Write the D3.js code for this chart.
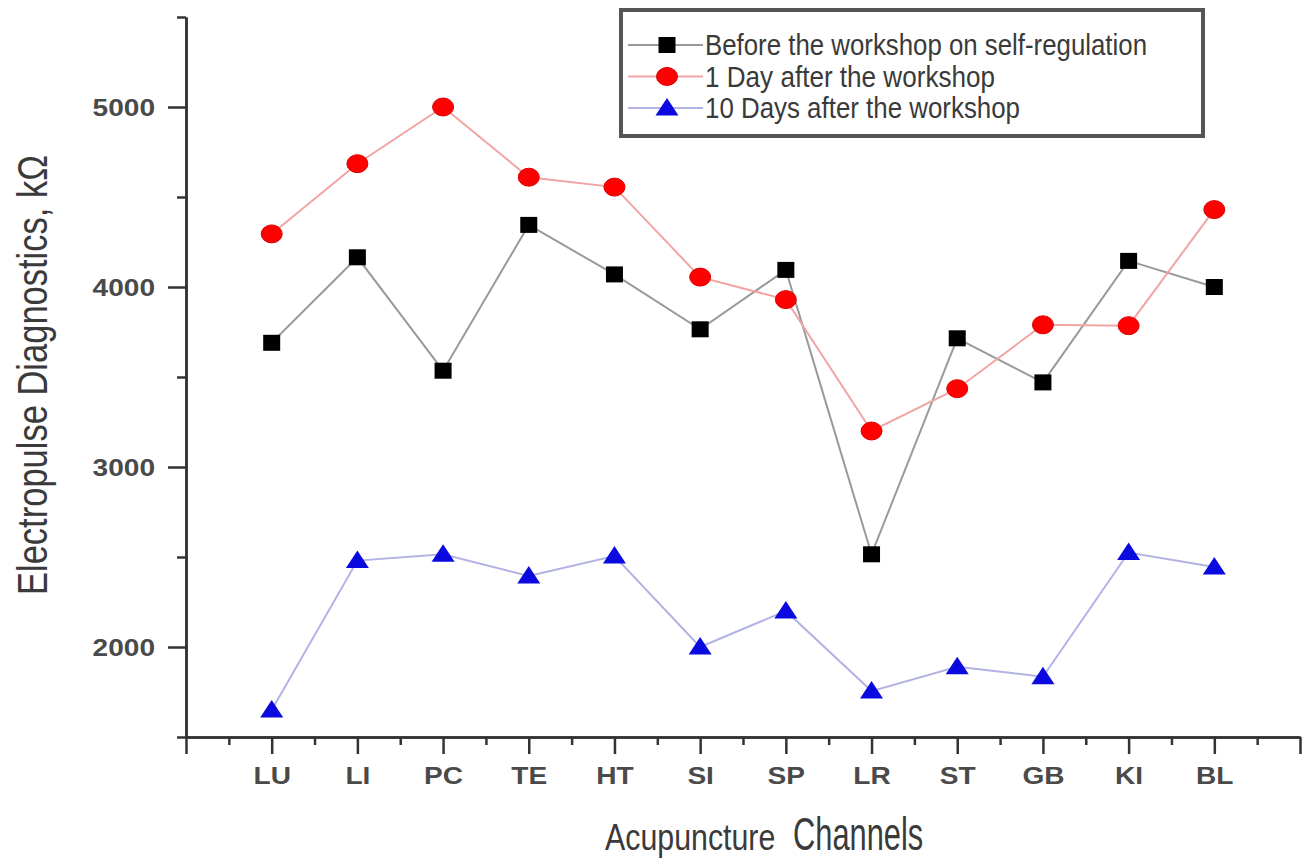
<!DOCTYPE html>
<html>
<head>
  <meta charset="utf-8" />
  <title>Electropulse diagnostics by acupuncture channel</title>
  <script src="https://cdnjs.cloudflare.com/ajax/libs/d3/7.8.5/d3.min.js"></script>
  <style>
    body {
      margin: 0;
      padding: 0;
      background: #fff;
    }
    .axis path,
    .axis line {
      stroke: #333;
      stroke-width: 2.5px;
    }
    .axis text {
      font: bold 24px "Liberation Sans", Arial, sans-serif;
      fill: #4a4a4a;
    }
    .narrow {
      font-family: "Liberation Sans Narrow", "Arial Narrow", "Liberation Sans", sans-serif;
      fill: #3a3a3a;
    }
    .series-line {
      fill: none;
      stroke-width: 2px;
    }
  </style>
</head>
<body>
  <svg id="chart" width="1303" height="861"></svg>

  <script>
// data
var channels = ["LU", "LI", "PC", "TE", "HT", "SI", "SP", "LR", "ST", "GB", "KI", "BL"];
var before = [3690, 4165, 3535, 4345, 4070, 3765, 4095, 2515, 3715, 3470, 4145, 4000];
var dayAfter = [4295, 4685, 5000, 4610, 4555, 4055, 3930, 3200, 3435, 3790, 3785, 4430];
var tenDaysAfter = [1650, 2480, 2515, 2395, 2505, 2000, 2200, 1755, 1890, 1835, 2525, 2445];
var seriesNames = [
  "Before the workshop on self-regulation",
  "1 Day after the workshop",
  "10 Days after the workshop"
];
var yMajorTicks = [2000, 3000, 4000, 5000];
var yMinorTicks = [1500, 2500, 3500, 4500, 5500];

var series = [
  { name: seriesNames[0], values: before, line: "#9a9a9a", fill: "#000", shape: "square", textLen: 442 },
  { name: seriesNames[1], values: dayAfter, line: "#f2a4a4", fill: "#f00", shape: "circle", textLen: 290 },
  { name: seriesNames[2], values: tenDaysAfter, line: "#b2b2e4", fill: "#0a0ae0", shape: "triangle", textLen: 315 }
];

var svg = d3.select("#chart");

var x = d3.scaleLinear()
    .domain([0, channels.length + 1])
    .range([186, 1300]);
var y = d3.scaleLinear()
    .domain([1500, 5500])
    .range([737, 17]);

// axes: minor ticks first, then the major ones with labels
svg.append("g")
    .attr("class", "axis")
    .attr("transform", "translate(0," + y(1500) + ")")
    .call(d3.axisBottom(x)
        .tickValues(d3.range(0.5, channels.length + 1, 1))
        .tickSize(8)
        .tickSizeOuter(0)
        .tickFormat(""));
var xAxis = svg.append("g")
    .attr("class", "axis")
    .attr("transform", "translate(0," + y(1500) + ")")
    .call(d3.axisBottom(x)
        .tickValues(d3.range(0, channels.length + 2))
        .tickSize(17)
        .tickSizeOuter(0)
        .tickFormat(function(d) { return channels[d - 1] || ""; }));
xAxis.selectAll("text")
    .attr("y", 47)
    .attr("dy", 0)
    .attr("transform", "scale(1.17,1)");

svg.append("g")
    .attr("class", "axis")
    .attr("transform", "translate(" + x(0) + ",0)")
    .call(d3.axisLeft(y)
        .tickValues(yMinorTicks)
        .tickSize(9)
        .tickSizeOuter(0)
        .tickFormat(""));
var yAxis = svg.append("g")
    .attr("class", "axis")
    .attr("transform", "translate(" + x(0) + ",0)")
    .call(d3.axisLeft(y)
        .tickValues(yMajorTicks)
        .tickSize(18)
        .tickSizeOuter(0)
        .tickFormat(d3.format("d")));
yAxis.selectAll("text")
    .attr("x", 0)
    .attr("dy", "0.36em")
    .attr("transform", "translate(-31,0) scale(1.17,1)");

// axis titles
svg.append("text")
    .attr("class", "narrow")
    .attr("transform", "translate(47,375) rotate(-90)")
    .attr("text-anchor", "middle")
    .attr("font-size", 42)
    .attr("textLength", 440)
    .attr("lengthAdjust", "spacingAndGlyphs")
    .text("Electropulse Diagnostics, k\u03A9");

// x title: two words in different sizes, squeezed horizontally
svg.append("text")
    .attr("class", "narrow")
    .attr("transform", "translate(605,850) scale(0.82,1)")
    .attr("font-size", 37)
    .text("Acupuncture");
svg.append("text")
    .attr("class", "narrow")
    .attr("transform", "translate(793,850) scale(0.67,1)")
    .attr("font-size", 46)
    .text("Channels");

function drawMarker(sel, shape, fill) {
  if (shape === "square") {
    sel.append("rect")
        .attr("x", -8.5).attr("y", -8)
        .attr("width", 17).attr("height", 16)
        .attr("fill", fill);
  } else if (shape === "circle") {
    sel.append("ellipse")
        .attr("rx", 10.5).attr("ry", 9)
        .attr("fill", fill)
        .attr("stroke", "#d00")
        .attr("stroke-width", 1);
  } else {
    sel.append("path")
        .attr("d", "M0,-10L11.5,7.5L-11.5,7.5Z")
        .attr("fill", fill);
  }
}

var line = d3.line()
    .x(function(d, i) { return x(i + 1); })
    .y(function(d) { return y(d); });

series.forEach(function(s) {
  svg.append("path")
      .attr("class", "series-line")
      .attr("stroke", s.line)
      .attr("d", line(s.values));
});

series.forEach(function(s) {
  svg.append("g")
    .selectAll("g")
    .data(s.values)
    .enter().append("g")
      .attr("transform", function(d, i) { return "translate(" + x(i + 1) + "," + y(d) + ")"; })
      .each(function() { drawMarker(d3.select(this), s.shape, s.fill); });
});

// legend
var legend = svg.append("g");
legend.append("rect")
    .attr("x", 621)
    .attr("y", 10)
    .attr("width", 582)
    .attr("height", 126)
    .attr("fill", "#fff")
    .attr("stroke", "#555")
    .attr("stroke-width", 4);

var rows = legend.selectAll("g.row")
    .data(series)
    .enter().append("g")
      .attr("class", "row")
      .attr("transform", function(d, i) { return "translate(0," + (45 + i * 31.5) + ")"; });
rows.append("line")
    .attr("x1", 628)
    .attr("x2", 703)
    .attr("stroke", function(d) { return d.line; })
    .attr("stroke-width", 2);
rows.append("g")
    .attr("transform", "translate(667,0)")
    .each(function(d) { drawMarker(d3.select(this), d.shape, d.fill); });
rows.append("text")
    .attr("class", "narrow")
    .attr("x", 705)
    .attr("y", 10)
    .attr("font-size", 29)
    .attr("textLength", function(d) { return d.textLen; })
    .attr("lengthAdjust", "spacingAndGlyphs")
    .text(function(d) { return d.name; });
  </script>
</body>
</html>
